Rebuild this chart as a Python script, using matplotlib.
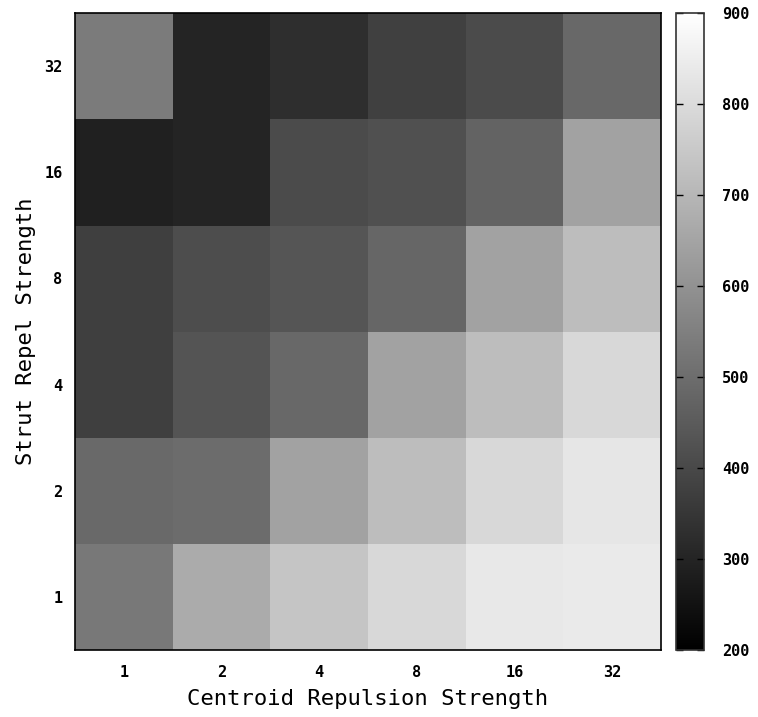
import numpy as np
import matplotlib.pyplot as plt

# axis categories
centroid = ["1", "2", "4", "8", "16", "32"]
strut = ["1", "2", "4", "8", "16", "32"]

# values per strut row (bottom row first), read from the grey levels
row_1 = [529, 669, 741, 793, 837, 842]
row_2 = [491, 496, 645, 719, 793, 831]
row_4 = [373, 430, 485, 645, 719, 793]
row_8 = [373, 411, 433, 480, 645, 719]
row_16 = [288, 302, 406, 420, 472, 645]
row_32 = [538, 299, 326, 376, 406, 485]

grid = np.array([row_1, row_2, row_4, row_8, row_16, row_32])

fig = plt.figure(figsize=(7.58, 7.17), dpi=100)
ax = fig.add_axes([75/758, 67/717, 586/758, 637/717])
cax = fig.add_axes([676/758, 67/717, 28/758, 637/717])

im = ax.imshow(grid, cmap="gray", vmin=200, vmax=900, origin="lower",
               aspect="auto", interpolation="nearest",
               extent=(-0.5, 5.5, -0.5, 5.5))

tick_font = dict(family="DejaVu Sans Mono", weight="bold", size=11)
ax.set_xticks(range(6))
ax.set_xticklabels(centroid, **tick_font)
ax.set_yticks(range(6))
ax.set_yticklabels(strut, **tick_font)
ax.tick_params(length=0, pad=11)
ax.tick_params(axis="y", pad=9)
for s in ax.spines.values():
    s.set_linewidth(1.2)
    s.set_color("black")

ax.set_xlabel("Centroid Repulsion Strength", family="DejaVu Sans Mono",
              size=16, labelpad=6)
ax.set_ylabel("Strut Repel Strength", family="DejaVu Sans Mono",
              size=16, labelpad=6)

cb = fig.colorbar(im, cax=cax, ticks=range(200, 901, 100))
cb.outline.set_edgecolor("#333333")
cb.outline.set_linewidth(1.2)
cax.tick_params(direction="in", left=True, right=True, length=5,
                width=1, color="black", pad=13)
for lab in cax.get_yticklabels():
    lab.set_family("DejaVu Sans Mono")
    lab.set_weight("bold")
    lab.set_size(11)

fig.savefig("out.png", dpi=100)
